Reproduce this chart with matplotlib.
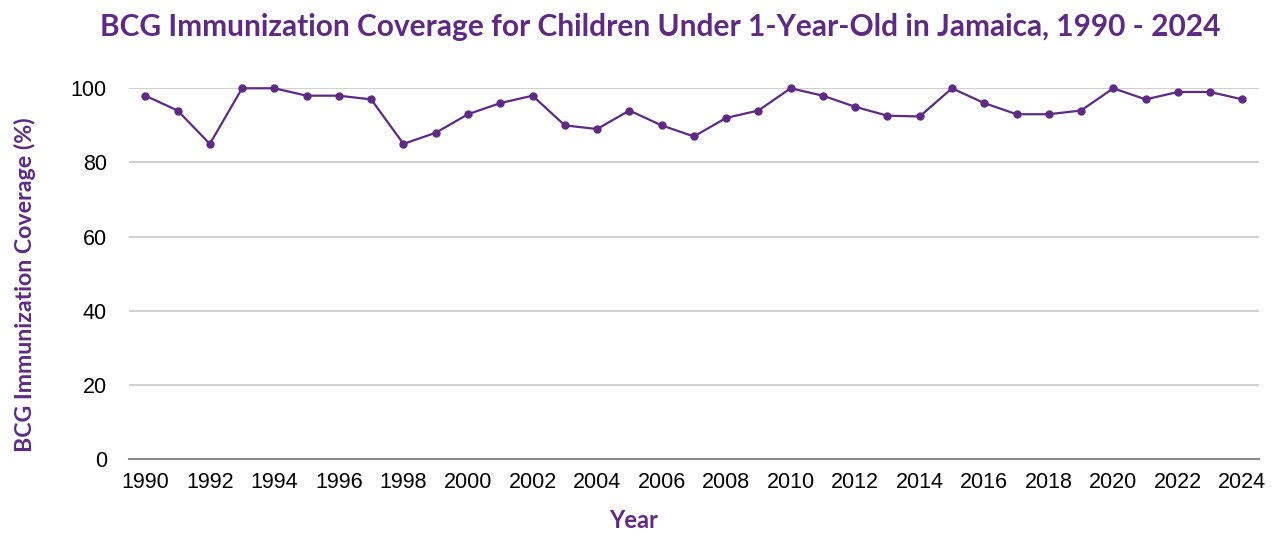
import matplotlib.pyplot as plt

# BCG coverage (%)
years = list(range(1990, 2025))
coverage = [98, 94, 85, 100, 100, 98, 98, 97, 85, 88,
            93, 96, 98, 90, 89, 94, 90, 87, 92, 94,
            100, 98, 95, 92.6, 92.4, 100, 96, 93, 93, 94,
            100, 97, 99, 99, 97]
y_ticks = [0, 20, 40, 60, 80, 100]

purple = '#5E2A84'

fig = plt.figure(figsize=(12.79, 5.35), dpi=100)
ax = fig.add_axes([0.101, 0.142, 0.883, 0.693])

ax.plot(years, coverage, color=purple, linewidth=1.6, marker='o',
        markersize=5, clip_on=False, zorder=3)

ax.set_xlim(1989.5, 2024.5)
ax.set_ylim(0, 100)
ax.set_xticks(years[::2])
ax.set_yticks(y_ticks)
ax.tick_params(length=0, labelsize=15.5)
ax.tick_params(axis='x', pad=9)
ax.tick_params(axis='y', pad=16)
for lab in ax.get_xticklabels() + ax.get_yticklabels():
    lab.set_fontfamily('Liberation Sans')

ax.yaxis.grid(True, color='#c8c8c8', linewidth=1.2)
ax.set_axisbelow(True)
for s in ['top', 'right', 'left']:
    ax.spines[s].set_visible(False)
ax.spines['bottom'].set_color('#888888')
ax.spines['bottom'].set_linewidth(1.5)

fig.suptitle('BCG Immunization Coverage for Children Under 1-Year-Old in Jamaica, 1990 - 2024',
             x=0.516, y=0.975, fontsize=21.5, fontweight='bold', color=purple,
             fontfamily='Lato')
fig.text(0.495, 0.013, 'Year', fontsize=17, fontweight='bold', color=purple,
         fontfamily='Lato', ha='center', va='baseline')
fig.text(0.0195, 0.467, 'BCG Immunization Coverage (%)', fontsize=16.7,
         fontweight='bold', color=purple, fontfamily='Lato', rotation=90,
         ha='center', va='center')

plt.savefig('out.png', dpi=100)
